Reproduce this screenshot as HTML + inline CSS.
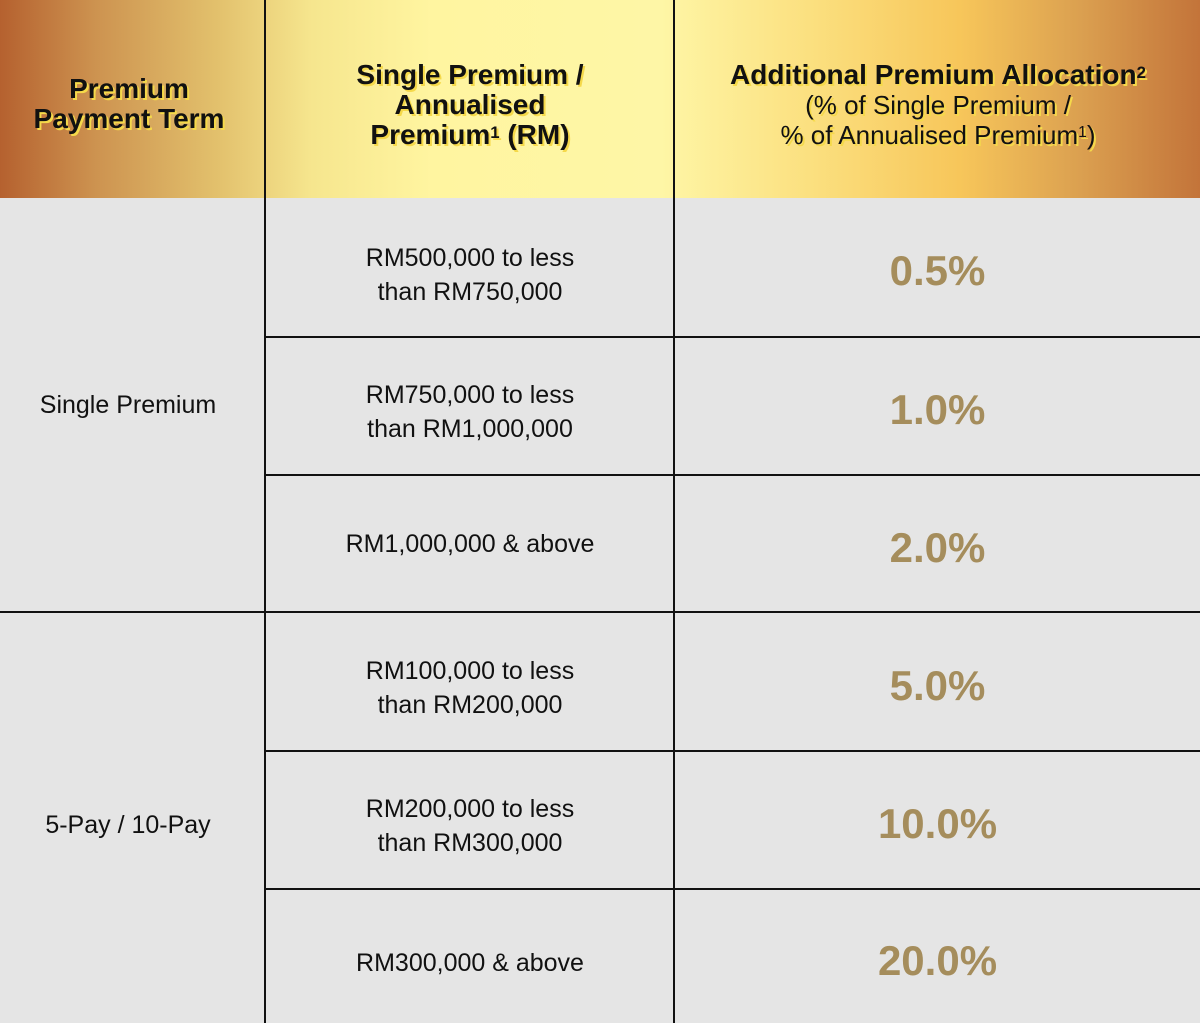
<!DOCTYPE html>
<html><head><style>
html,body{margin:0;width:1200px;height:1023px;overflow:hidden}
body{font-family:"Liberation Sans",sans-serif;background:#e5e5e5;position:relative}
.hdr{position:absolute;left:0;top:0;width:1200px;height:198px;background:linear-gradient(90deg,#b5612f 0%,#cd9350 8%,#e2c06c 18%,#f6e68e 26%,#fff5a0 36%,#fef6a6 55%,#fbdf7e 68%,#f7c65a 80%,#dba050 90%,#c3743a 100%)}
.vl{position:absolute;top:0;width:2px;background:#111}
.hl{position:absolute;height:2px;background:#111}
.t{position:absolute;text-align:center;display:flex;align-items:center;justify-content:center}
.h{font-weight:bold;color:#111;text-shadow:2px 2px 0 #f5d94a;line-height:30px}
.b{font-size:25px;color:#111;line-height:34px}
.p{font-size:42px;font-weight:bold;color:#a58d5c}
sup{font-size:60%;vertical-align:top;position:relative;top:-2px}
</style></head><body>
<div class="hdr"></div>
<div class="vl" style="left:264px;height:1023px"></div>
<div class="vl" style="left:673px;height:1023px"></div>
<div class="hl" style="left:0;width:1200px;top:611px"></div>
<div class="hl" style="left:265px;width:935px;top:336px"></div>
<div class="hl" style="left:265px;width:935px;top:474px"></div>
<div class="hl" style="left:265px;width:935px;top:750px"></div>
<div class="hl" style="left:265px;width:935px;top:888px"></div>

<div class="t h" style="left:0;top:74px;width:258px;height:60px;font-size:28px"><div>Premium<br>Payment Term</div></div>
<div class="t h" style="left:266px;top:58px;width:408px;height:94px;font-size:28px"><div>Single Premium /<br>Annualised<br>Premium<sup>1</sup> (RM)</div></div>
<div class="t h" style="left:676px;top:58px;width:524px;height:94px;font-size:26px;flex-direction:column"><div style="font-size:28px">Additional Premium Allocation<sup>2</sup></div><div style="font-weight:normal">(% of Single Premium /</div><div style="font-weight:normal">% of Annualised Premium<sup>1</sup>)</div></div>

<div class="t b" style="left:0;top:198px;width:256px;height:413px"><div>Single Premium</div></div>
<div class="t b" style="left:0;top:626px;width:256px;height:397px"><div>5-Pay / 10-Pay</div></div>

<div class="t b" style="left:266px;top:206px;width:408px;height:138px"><div>RM500,000 to less<br>than RM750,000</div></div>
<div class="t b" style="left:266px;top:344px;width:408px;height:136px"><div>RM750,000 to less<br>than RM1,000,000</div></div>
<div class="t b" style="left:266px;top:476px;width:408px;height:135px"><div>RM1,000,000 &amp; above</div></div>
<div class="t b" style="left:266px;top:619px;width:408px;height:137px"><div>RM100,000 to less<br>than RM200,000</div></div>
<div class="t b" style="left:266px;top:758px;width:408px;height:136px"><div>RM200,000 to less<br>than RM300,000</div></div>
<div class="t b" style="left:266px;top:896px;width:408px;height:133px"><div>RM300,000 &amp; above</div></div>

<div class="t p" style="left:675px;top:198px;width:525px;height:146px">0.5%</div>
<div class="t p" style="left:675px;top:338px;width:525px;height:144px">1.0%</div>
<div class="t p" style="left:675px;top:476px;width:525px;height:143px">2.0%</div>
<div class="t p" style="left:675px;top:613px;width:525px;height:145px">5.0%</div>
<div class="t p" style="left:675px;top:752px;width:525px;height:144px">10.0%</div>
<div class="t p" style="left:675px;top:890px;width:525px;height:141px">20.0%</div>
</body></html>
